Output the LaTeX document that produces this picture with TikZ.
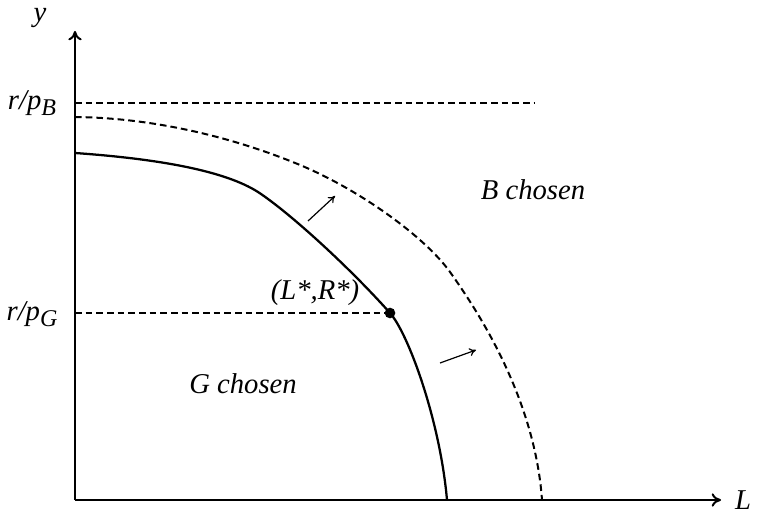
\documentclass[tikz,border=0pt]{standalone}
\usepackage{fontspec}
\setmainfont{Liberation Serif}
\usepackage{tikz}
\usetikzlibrary{arrows.meta, positioning, calc}

\newcommand{\lowsub}[1]{\raisebox{-0.5ex}{\fontsize{18}{20}\selectfont #1}}

\begin{document}
\begin{tikzpicture}[
      x=0.75pt, y=-0.75pt,
      every node/.style={font=\fontsize{21.5}{25}\selectfont\itshape},
      axis/.style={-{To[length=7pt,width=10pt]}, line width=1.5pt},
      axlabel/.style={inner sep=1pt},
      frontier/.style={line width=1.7pt},
      guide/.style={line width=1.5pt, dash pattern=on 5pt off 3pt},
      movearr/.style={-{To[length=5pt,width=6pt]}, line width=0.9pt},
    ]
      \useasboundingbox (0,0) rectangle (757,516);

      % axes
      \coordinate (O) at (75,500);
      \coordinate (ytop) at (75,31);
      \coordinate (xend) at (721,500);
      \draw[axis] (O) -- (ytop);
      \draw[axis] (O) -- (xend);
      \node[axlabel] (ylab) at (40,18) {y};
      \node[axlabel] (Llab) at (743,500) {L};

      % levels on the y axis
      \node (rpB) at (32,103) {r/p\lowsub{B}};
      \node (rpG) at (32,314) {r/p\lowsub{G}};
      \coordinate (yB) at (75,103);
      \coordinate (yB2) at (535,103);
      \coordinate (yG) at (75,313);
      \draw[guide] (yB) -- (yB2);

      % frontiers
      \node[circle, fill, inner sep=0pt, minimum size=8pt] (opt) at (390,313) {};
      \draw[frontier] (75,153) .. controls (160,159) and (225,171) .. (258,192)
        .. controls (290,213) and (350,268) .. (opt.center)
        .. controls (408,333) and (440,420) .. (447,500);
      \draw[guide] (75,117) .. controls (160,118) and (240,140) .. (300,165)
        .. controls (360,190) and (425,237) .. (450,272)
        .. controls (480,314) and (535,400) .. (542,500);
      \draw[guide] (yG) -- (opt);

      \node (star) at (315,293) {(L*,R*)};
      \node (Bch) at (533,190) {B chosen};
      \node (Gch) at (243,384) {G chosen};

      % shift of the frontier
      \coordinate (a1) at (308,221);
      \coordinate (b1) at (335,196);
      \coordinate (a2) at (440,363);
      \coordinate (b2) at (476,350);
      \draw[movearr] (a1) -- (b1);
      \draw[movearr] (a2) -- (b2);
    \end{tikzpicture}
\end{document}
